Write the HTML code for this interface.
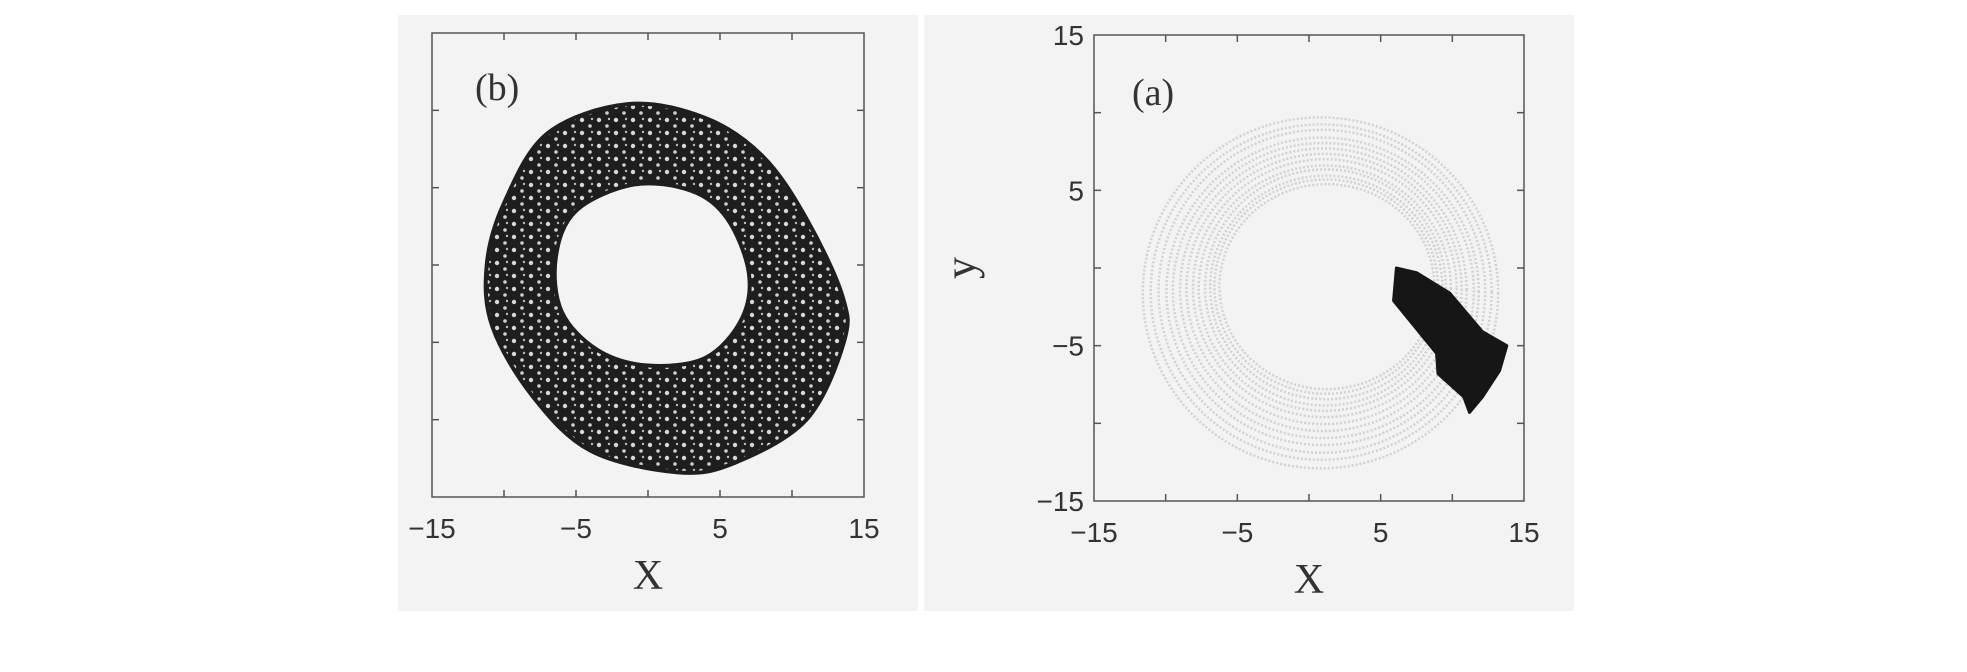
<!DOCTYPE html>
<html><head><meta charset="utf-8"><style>
html,body{margin:0;padding:0;background:#fff;}
svg{display:block;}
</style></head><body>
<svg id="chart" width="1967" height="672" viewBox="0 0 1967 672" xmlns="http://www.w3.org/2000/svg">
<defs>
<pattern id="speck" width="17" height="13" patternUnits="userSpaceOnUse">
<rect width="17" height="13" fill="#1e1e1e"/>
<circle cx="4" cy="3" r="2.2" fill="#d8d8d8"/>
<circle cx="12" cy="9" r="1.8" fill="#cfcfcf"/>
<circle cx="14" cy="2" r="1.2" fill="#bbb"/>
</pattern>
</defs>
<rect x="398" y="15" width="520" height="596" fill="#f3f3f3"/>
<rect x="924" y="15" width="650" height="596" fill="#f3f3f3"/>
<g id="left"></g>
<g id="right"></g>
</svg>
<script>
// Panel (b): attractor ring boundary (x,y data units)
const outerX = [-1.4, 4, 8, 11, 13.5, 13.6, 11, 6, 2, -4, -8, -10.8, -11.2, -10, -7];
const outerY = [10.4, 9.5, 7, 3, -2, -5, -10, -12.8, -13.4, -12, -8.5, -4, 0, 4, 8.5];
const innerX = [-1, 3, 5.5, 7, 6.5, 4, 0, -3.5, -6, -6.4, -5];
const innerY = [5.2, 4.8, 3, -0.5, -3.5, -6, -6.5, -5.5, -3, 0.5, 3.5];
// Panel (a): grey rings (center x, center y, radius x, radius y)
const ringCX = [0.8, 0.85, 0.9, 0.95, 1.0, 1.0, 1.05, 1.1, 1.1, 1.15, 1.2, 1.2, 1.25];
const ringCY = [-1.6, -1.55, -1.5, -1.5, -1.45, -1.4, -1.35, -1.3, -1.3, -1.25, -1.25, -1.2, -1.2];
const ringRX = [12.4, 11.9, 11.4, 10.9, 10.5, 10.0, 9.6, 9.2, 8.8, 8.4, 8.1, 7.8, 7.5];
const ringRY = [11.3, 10.8, 10.4, 9.9, 9.5, 9.1, 8.7, 8.3, 7.9, 7.6, 7.2, 6.9, 6.6];
// Panel (a): black cluster outline
const blobX = [6.1, 5.9, 8.9, 9.0, 10.8, 11.2, 12.1, 13.3, 13.8, 12.1, 9.8, 7.5];
const blobY = [0.0, -2.1, -5.5, -6.8, -8.3, -9.3, -8.3, -6.6, -5.0, -4.1, -1.6, -0.3];
const ticks = [-15, -10, -5, 0, 5, 10, 15];
const tickLabels = ["\u221215", "\u22125", "5", "15"];
const labelVals = [-15, -5, 5, 15];

const NS = "http://www.w3.org/2000/svg";
function mk(parent, tag, attrs, text) {
  const e = document.createElementNS(NS, tag);
  for (const k in attrs) e.setAttribute(k, attrs[k]);
  if (text !== undefined) e.textContent = text;
  parent.appendChild(e);
  return e;
}
function axes(x0, x1, y0, y1) {
  return {
    sx: v => x0 + (v + 15) / 30 * (x1 - x0),
    sy: v => y1 - (v + 15) / 30 * (y1 - y0),
    x0, x1, y0, y1
  };
}
function smoothPath(xs, ys, A) {
  const n = xs.length, P = xs.map((x, i) => [A.sx(x), A.sy(ys[i])]);
  let d = "M" + P[0][0] + "," + P[0][1];
  for (let i = 0; i < n; i++) {
    const p0 = P[(i - 1 + n) % n], p1 = P[i], p2 = P[(i + 1) % n], p3 = P[(i + 2) % n];
    const c1 = [p1[0] + (p2[0] - p0[0]) / 6, p1[1] + (p2[1] - p0[1]) / 6];
    const c2 = [p2[0] - (p3[0] - p1[0]) / 6, p2[1] - (p3[1] - p1[1]) / 6];
    d += "C" + c1[0] + "," + c1[1] + " " + c2[0] + "," + c2[1] + " " + p2[0] + "," + p2[1];
  }
  return d + "Z";
}
function frame(g, A, yLabels) {
  const box = mk(g, "rect", {x: A.x0, y: A.y0, width: A.x1 - A.x0, height: A.y1 - A.y0, fill: "none", stroke: "#555", "stroke-width": 1.5});
  
  
  ticks.slice(1, -1).forEach(t => {
    const x = A.sx(t), y = A.sy(t);
    [[x, A.y1, x, A.y1 - 7], [x, A.y0, x, A.y0 + 7], [A.x0, y, A.x0 + 7, y], [A.x1, y, A.x1 - 7, y]].forEach(c => {
      const l = mk(g, "line", {x1: c[0], y1: c[1], x2: c[2], y2: c[3], stroke: "#555", "stroke-width": 1.5});
      
      
    });
  });
  labelVals.forEach((v, i) => {
    const t = mk(g, "text", {x: A.sx(v), y: A.y1 + 41, "text-anchor": "middle", "font-family": "Liberation Sans, sans-serif", "font-size": 28, fill: "#333"}, tickLabels[i]);
    
    
    if (yLabels) {
      const ty = mk(g, "text", {x: A.x0 - 10, y: A.sy(v) + 10, "text-anchor": "end", "font-family": "Liberation Sans, sans-serif", "font-size": 28, fill: "#333"}, tickLabels[i]);
      
      
    }
  });
  const xl = mk(g, "text", {x: (A.x0 + A.x1) / 2, y: A.y1 + 92, "text-anchor": "middle", "font-family": "Liberation Serif, serif", "font-size": 42, fill: "#333"}, "X");
  
  
}

// Left panel (b)
const L = axes(432, 864, 33, 497);
const gL = document.getElementById("left");
const ring = mk(gL, "path", {d: smoothPath(outerX, outerY, L) + " " + smoothPath(innerX.slice().reverse(), innerY.slice().reverse(), L), fill: "url(#speck)", "fill-rule": "evenodd", stroke: "#1e1e1e", "stroke-width": 4});


frame(gL, L, false);
const lb = mk(gL, "text", {x: 475, y: 100, "font-family": "Liberation Serif, serif", "font-size": 38, fill: "#333"}, "(b)");



// Right panel (a)
const R = axes(1094, 1524, 35, 501);
const gR = document.getElementById("right");
ringCX.forEach((cx, i) => {
  const e = mk(gR, "ellipse", {cx: R.sx(cx), cy: R.sy(ringCY[i]), rx: ringRX[i] * 14.33, ry: ringRY[i] * 15.53, fill: "none", stroke: "#d2d2d2", "stroke-width": 2.5, "stroke-dasharray": "2 2"});
  
  
});
const blob = mk(gR, "polygon", {points: blobX.map((x, i) => R.sx(x) + "," + R.sy(blobY[i])).join(" "), fill: "#161616", stroke: "#161616", "stroke-width": 3, "stroke-linejoin": "round"});


frame(gR, R, true);
const la = mk(gR, "text", {x: 1132, y: 105, "font-family": "Liberation Serif, serif", "font-size": 38, fill: "#333"}, "(a)");


const yl = mk(gR, "text", {x: 0, y: 0, transform: "translate(975,268) rotate(-90)", "text-anchor": "middle", "font-family": "Liberation Serif, serif", "font-size": 44, fill: "#333"}, "y");


</script>
</body></html>
